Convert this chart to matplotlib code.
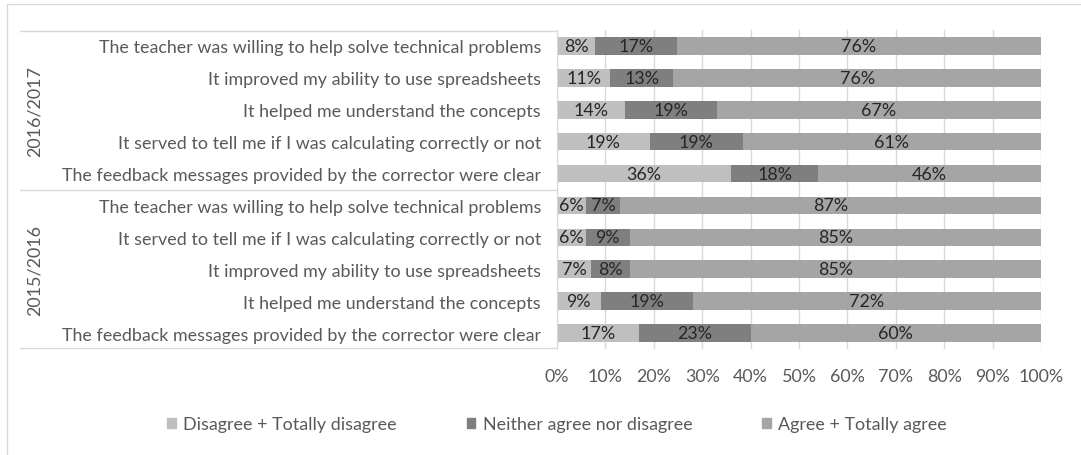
import matplotlib.pyplot as plt
import numpy as np
from matplotlib.patches import Rectangle
from matplotlib.lines import Line2D

plt.rcParams['font.family'] = ['Lato', 'DejaVu Sans']

# rows from top to bottom
questions = [
  "The teacher was willing to help solve technical problems",
  "It improved my ability to use spreadsheets",
  "It helped me understand the concepts",
  "It served to tell me if I was calculating correctly or not",
  "The feedback messages provided by the corrector were clear",
  "The teacher was willing to help solve technical problems",
  "It served to tell me if I was calculating correctly or not",
  "It improved my ability to use spreadsheets",
  "It helped me understand the concepts",
  "The feedback messages provided by the corrector were clear",
]
years = ["2016/2017", "2015/2016"]
rows_per_year = 5

disagree = [8, 11, 14, 19, 36, 6, 6, 7, 9, 17]
neutral  = [17, 13, 19, 19, 18, 7, 9, 8, 19, 23]
agree    = [76, 76, 67, 61, 46, 87, 85, 85, 72, 60]

series_names = ["Disagree + Totally disagree", "Neither agree nor disagree", "Agree + Totally agree"]
colors = ["#bfbfbf", "#7f7f7f", "#a5a5a5"]

W, H = 1081, 456
fig = plt.figure(figsize=(W / 100, H / 100), dpi=100)

def fx(px):
  return px / W

def fy(px):
  return 1 - px / H

ax = fig.add_axes([fx(557), fy(350), fx(1041) - fx(557), fy(31) - fy(350)])

data = np.array([disagree, neutral, agree], dtype=float)
totals = data.sum(axis=0)
shares = data / totals * 100  # 100% stacked, like the spreadsheet chart

fs = 12.85

y = np.arange(len(questions))
left = np.zeros(len(questions))
for k in range(3):
  ax.barh(y, shares[k], left=left, height=0.55, color=colors[k], zorder=2, label=series_names[k])
  for i in range(len(questions)):
    ax.text(left[i] + shares[k][i] / 2, y[i], "{:d}%".format(int(data[k][i])),
            ha='center', va='center', fontsize=fs, color='#262626', zorder=3)
  left += shares[k]

ax.set_xlim(0, 100)
ax.set_ylim(len(questions) - 0.5, -0.5)
ax.set_xticks(np.arange(0, 101, 10))
ax.set_xticklabels(["{}%".format(v) for v in range(0, 101, 10)])
ax.set_yticks(y)
ax.set_yticklabels(questions)
ax.tick_params(axis='both', length=0, labelsize=fs, labelcolor='#595959')
ax.tick_params(axis='y', pad=11.5)
ax.tick_params(axis='x', pad=14)
ax.xaxis.grid(True, color='#d9d9d9', linewidth=1, zorder=0)
for s in ['top', 'right', 'bottom']:
  ax.spines[s].set_visible(False)
ax.spines['left'].set_color('#d9d9d9')

# group brackets for the year labels
line_c = '#d9d9d9'
for py in [32, 191, 349]:
  fig.add_artist(Line2D([fx(20), fx(557)], [fy(py), fy(py)], color=line_c, linewidth=1))
for g, year in enumerate(years):
  top_px = 32 + g * 159
  fig.text(fx(35), fy(top_px + 79.5), year, rotation=90, ha='center', va='center',
           fontsize=fs, color='#595959')

# outer chart frame
fig.add_artist(Rectangle((fx(7), fy(470)), fx(1100), fy(5) - fy(470), fill=False,
                         edgecolor='#d9d9d9', linewidth=1))

handles = [Rectangle((0, 0), 1, 1, color=c) for c in colors]
fig.legend(handles, series_names, loc='center', bbox_to_anchor=(fx(557), fy(425)), ncol=3,
           frameon=False, fontsize=fs, labelcolor='#595959', handlelength=0.5, handleheight=0.5,
           handletextpad=0.4, columnspacing=3.9)

plt.savefig("out.png", format="png")
